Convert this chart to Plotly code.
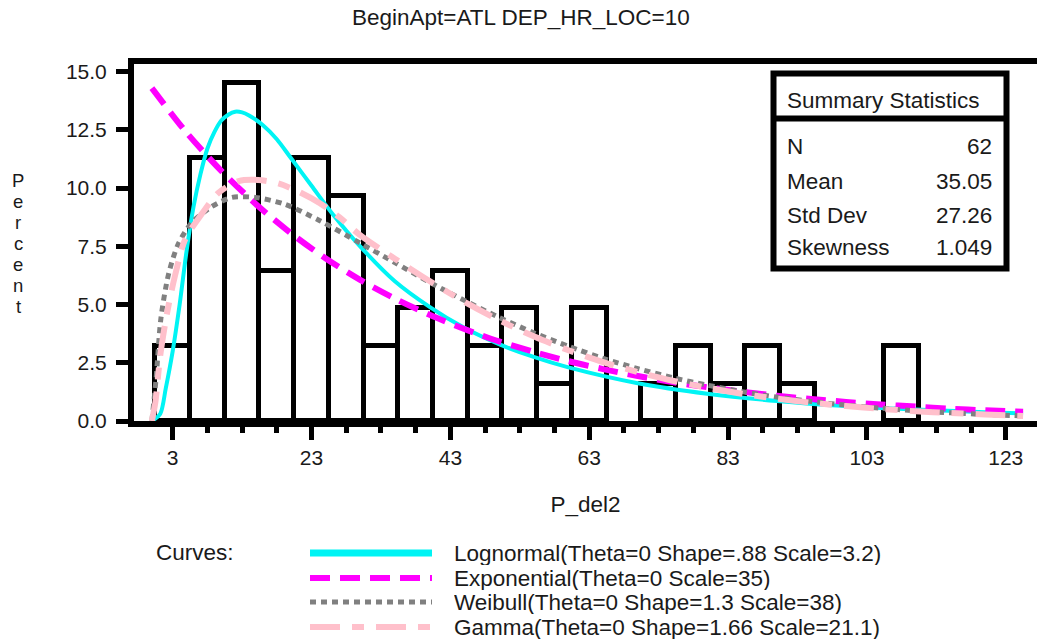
import plotly.graph_objects as go

# ---------------- data ----------------
title_text = "BeginApt=ATL DEP_HR_LOC=10"
x_title = "P_del2"
y_title = "Percent"

bin_mid = [3, 8, 13, 18, 23, 28, 33, 38, 43, 48, 53, 58, 63, 68, 73, 78, 83, 88, 93,
           98, 103, 108, 113, 118, 123]
bin_pct = [3.23, 11.29, 14.52, 6.45, 11.29, 9.68, 3.23, 4.84, 6.45, 3.23, 4.84, 1.61,
           4.84, 0, 1.61, 3.23, 1.61, 3.23, 1.61, 0, 0, 3.23, 0, 0, 0]
bin_width = 5

x_tickvals = [3, 23, 43, 63, 83, 103, 123]
x_minorvals = [8, 13, 18, 28, 33, 38, 48, 53, 58, 68, 73, 78, 88, 93, 98, 108, 113, 118]
y_tickvals = [0, 2.5, 5, 7.5, 10, 12.5, 15]

logn_x = [0, 1.2, 2, 3, 4, 5, 6, 7, 8, 9, 10, 11, 12, 13, 14, 16, 18, 20, 23, 26, 30,
          35, 40, 45, 50, 55, 60, 70, 80, 90, 100, 110, 120, 125.5]
logn_y = [0, 0.3, 1.4, 3.0, 5.0, 7.3, 9.2, 10.6, 11.7, 12.4, 12.9, 13.15, 13.28, 13.25,
          13.12, 12.7, 12.1, 11.3, 10.1, 8.9, 7.5, 6.0, 4.9, 4.0, 3.3, 2.75, 2.3, 1.62,
          1.17, 0.86, 0.64, 0.49, 0.38, 0.33]

expo_x = [0, 5, 10, 15, 20, 25, 30, 35, 40, 45, 50, 55, 60, 65, 70, 75, 80, 85, 90, 95,
          100, 105, 110, 115, 120, 125.5]
expo_y = [14.29, 12.38, 10.74, 9.31, 8.07, 6.99, 6.06, 5.26, 4.56, 3.95, 3.42, 2.97,
          2.57, 2.23, 1.93, 1.67, 1.45, 1.26, 1.09, 0.94, 0.82, 0.71, 0.62, 0.53, 0.46, 0.40]

weib_x = [0, 0.6, 1.3, 2.4, 3.8, 5.7, 8.6, 11.5, 14.9, 19.2, 24.2, 30, 35, 40, 45, 50,
          55, 60, 65, 70, 75, 80, 85, 90, 95, 100, 105, 110, 115, 120, 125.5]
weib_y = [0, 1.8, 4.4, 6.3, 7.6, 8.5, 9.2, 9.6, 9.6, 9.3, 8.6, 7.64, 6.80, 5.96, 5.18,
          4.45, 3.79, 3.21, 2.69, 2.25, 1.86, 1.54, 1.26, 1.03, 0.84, 0.68, 0.55, 0.44,
          0.35, 0.28, 0.22]

gam_x = [0, 0.5, 1.2, 2.1, 3.3, 4.8, 7.2, 9.6, 12.5, 15.3, 18.2, 21.1, 24.2, 27, 30, 35,
         40, 45, 50, 55, 60, 65, 70, 75, 80, 85, 90, 95, 100, 105, 110, 115, 120, 125.5]
gam_y = [0, 0.8, 2.8, 4.5, 6.2, 7.8, 8.9, 9.8, 10.3, 10.35, 10.2, 9.85, 9.35, 8.75, 7.98,
         6.97, 6.01, 5.12, 4.33, 3.64, 3.04, 2.53, 2.10, 1.73, 1.43, 1.17, 0.96, 0.785,
         0.64, 0.52, 0.42, 0.345, 0.28, 0.22]

curve_names = ["Lognormal(Theta=0 Shape=.88 Scale=3.2)",
               "Exponential(Theta=0 Scale=35)",
               "Weibull(Theta=0 Shape=1.3 Scale=38)",
               "Gamma(Theta=0 Shape=1.66 Scale=21.1)"]

stat_labels = ["N", "Mean", "Std Dev", "Skewness"]
stat_values = ["62", "35.05", "27.26", "1.049"]

# ---------------- styles ----------------
W, H = 1037, 640
L, T, B = 134, 64, 421          # plot-area edges in pixels
FONT = "Arial, Liberation Sans, sans-serif"
TXT = "#1a1a1a"
FS = 22.5
curve_styles = [
    dict(color="#00F4F4", width=4, dash="solid"),
    dict(color="#FF00FF", width=6, dash="20px,10px"),
    dict(color="#808080", width=5, dash="6px,5px"),
    dict(color="#FFC0CB", width=6, dash="30px,12px,12px,12px"),
]
legend_widths = [7, 6, 5, 6]


def px(xp):
    return (xp - L) / (W - L)


def py(yp):
    return (B - yp) / (B - T)


fig = go.Figure()

# histogram bars (zero bins not drawn)
bx = [m for m, p in zip(bin_mid, bin_pct) if p > 0]
by = [p for p in bin_pct if p > 0]
fig.add_trace(go.Bar(x=bx, y=by, width=bin_width,
                     marker=dict(color="white", line=dict(color="black", width=5)),
                     showlegend=False, hoverinfo="x+y"))

for (cx, cy), name, st in zip([(logn_x, logn_y), (expo_x, expo_y), (weib_x, weib_y),
                               (gam_x, gam_y)], curve_names, curve_styles):
    fig.add_trace(go.Scatter(x=cx, y=cy, mode="lines", name=name, showlegend=False,
                             line=dict(color=st["color"], width=st["width"],
                                       dash=st["dash"], shape="spline", smoothing=0.8)))

x_lo = 3 - (172.7 - L) / 6.942
x_hi = 3 + (W - 172.7) / 6.942
y_hi = (B - T) / 23.29

fig.update_layout(
    width=W, height=H,
    margin=dict(l=L, r=0, t=T, b=H - B, pad=0),
    paper_bgcolor="white", plot_bgcolor="white",
    font=dict(family=FONT, size=FS, color=TXT),
    bargap=0,
    xaxis=dict(range=[x_lo, x_hi], tickvals=x_tickvals,
               ticktext=[str(v) for v in x_tickvals],
               ticks="outside", ticklen=13, tickwidth=5, tickcolor="black",
               showline=True, linewidth=6, linecolor="black", mirror=True,
               showgrid=False, zeroline=False,
               minor=dict(ticks="outside", ticklen=6, tickwidth=5, tickcolor="black",
                          tickmode="array", tickvals=x_minorvals, showgrid=False),
               tickfont=dict(size=21, color=TXT),
               title=dict(text=x_title, font=dict(size=FS, color=TXT), standoff=30)),
    yaxis=dict(range=[0, y_hi], tickvals=y_tickvals,
               ticktext=["%.1f" % v for v in y_tickvals],
               ticks="outside", ticklen=12, tickwidth=5, tickcolor="black",
               showline=True, linewidth=6, linecolor="black", mirror=False,
               showgrid=False, zeroline=False, ticklabelstandoff=5,
               tickfont=dict(size=21, color=TXT)),
)

ann = []
shapes = []

# title
ann.append(dict(text=title_text, xref="paper", yref="paper", x=px(521), y=py(17),
                xanchor="center", yanchor="middle", showarrow=False,
                font=dict(size=FS, color=TXT)))

# vertical y label, one letter per line
letter_y = [180, 201, 222, 243, 264, 285, 306]
for ch, ly in zip(y_title, letter_y):
    ann.append(dict(text=ch, xref="paper", yref="paper", x=px(18), y=py(ly),
                    xanchor="center", yanchor="middle", showarrow=False,
                    font=dict(size=18.5, color=TXT)))

# summary statistics box
shapes.append(dict(type="rect", xref="paper", yref="paper",
                   x0=px(773.5), x1=px(1006.5), y0=py(73.5), y1=py(268.5),
                   line=dict(color="black", width=6), fillcolor="white", layer="above"))
shapes.append(dict(type="line", xref="paper", yref="paper",
                   x0=px(773.5), x1=px(1006.5), y0=py(118.5), y1=py(118.5),
                   line=dict(color="black", width=6), layer="above"))
ann.append(dict(text="Summary Statistics", xref="paper", yref="paper", x=px(785),
                y=py(100), xanchor="left", yanchor="middle", showarrow=False,
                font=dict(size=FS, color=TXT)))
row_y = [146, 181, 215, 248]
for lab, val, ry in zip(stat_labels, stat_values, row_y):
    ann.append(dict(text=lab, xref="paper", yref="paper", x=px(785), y=py(ry),
                    xanchor="left", yanchor="middle", showarrow=False,
                    font=dict(size=FS, color=TXT)))
    ann.append(dict(text=val, xref="paper", yref="paper", x=px(994), y=py(ry),
                    xanchor="right", yanchor="middle", showarrow=False,
                    font=dict(size=FS, color=TXT)))

# custom legend
ann.append(dict(text="Curves:", xref="paper", yref="paper", x=px(154), y=py(552),
                xanchor="left", yanchor="middle", showarrow=False,
                font=dict(size=FS, color=TXT)))
leg_y = [553, 578, 602, 627]
for name, st, lw, ly in zip(curve_names, curve_styles, legend_widths, leg_y):
    shapes.append(dict(type="line", xref="paper", yref="paper",
                       x0=px(310), x1=px(432), y0=py(ly), y1=py(ly),
                       line=dict(color=st["color"], width=lw, dash=st["dash"])))
    ann.append(dict(text=name, xref="paper", yref="paper", x=px(452), y=py(ly),
                    xanchor="left", yanchor="middle", showarrow=False, height=23,
                    font=dict(size=FS, color=TXT)))

fig.update_layout(annotations=ann, shapes=shapes)
fig.write_html("out.html",
               config={"displayModeBar": False},
               post_script="document.body.style.margin='0';"
                           "document.body.style.padding='0';")
